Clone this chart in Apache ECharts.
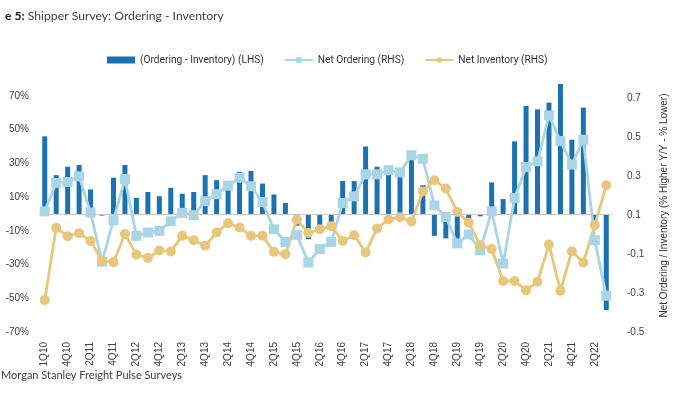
<!DOCTYPE html>
<html>
<head>
<meta charset="utf-8">
<script src="https://cdn.jsdelivr.net/npm/echarts@6/dist/echarts.min.js"></script>
<style>
html,body{margin:0;padding:0;background:#fff;}
#c{width:700px;height:394px;}
</style>
</head>
<body>
<div id="c"></div>
<script>
var categories = ['1Q10','3Q10','4Q10','1Q11','2Q11','3Q11','4Q11','1Q12','2Q12','3Q12','4Q12','1Q13','2Q13','3Q13','4Q13','1Q14','2Q14','3Q14','4Q14','1Q15','2Q15','3Q15','4Q15','1Q16','2Q16','3Q16','4Q16','1Q17','2Q17','3Q17','4Q17','1Q18','2Q18','3Q18','4Q18','1Q19','2Q19','3Q19','4Q19','1Q20','2Q20','3Q20','4Q20','1Q21','2Q21','3Q21','4Q21','1Q22','2Q22','3Q22'];

var orderingMinusInventory = [46,23,28,29,14.5,-1,21.5,29,9.5,13,10.5,15.5,12,13,23,20,15,25,25.5,18,11.5,6.5,-7,-15,-7,-6,19.5,19.5,40,28,24,22,32.5,17,-13,-14.5,-19,-2.7,-1.4,18.7,8.8,43,64,62,66,77,44,63,-5.5,-57];

var netOrdering = [0.12,0.266,0.271,0.30,0.114,-0.139,0.074,0.286,-0.006,0.011,0.02,0.069,0.112,0.10,0.172,0.208,0.252,0.293,0.249,0.168,0.028,-0.037,-0.001,-0.143,-0.074,-0.037,0.163,0.197,0.31,0.31,0.331,0.32,0.408,0.39,0.151,0.091,-0.045,0.001,-0.08,0.12,-0.148,0.189,0.348,0.377,0.613,0.481,0.36,0.488,-0.028,-0.314];

var netInventory = [-0.336,0.035,-0.008,0.008,-0.032,-0.134,-0.141,0.003,-0.102,-0.119,-0.081,-0.086,-0.006,-0.028,-0.057,0.011,0.059,0.037,-0.006,-0.006,-0.088,-0.1,0.078,0.009,0.028,0.044,-0.032,-0.003,-0.091,0.032,0.078,0.09,0.068,0.222,0.28,0.237,0.117,0.062,-0.054,-0.074,-0.238,-0.238,-0.285,-0.242,-0.05,-0.288,-0.085,-0.143,0.049,0.254];

var seriesNames = ['(Ordering - Inventory) (LHS)','Net Ordering (RHS)','Net Inventory (RHS)'];
var rightAxisName = 'Net Ordering / Inventory (% Higher Y/Y - % Lower)';
var titleText = 'e 5:';
var subtitleText = 'Shipper Survey: Ordering - Inventory';
var sourceText = 'Morgan Stanley Freight Pulse Surveys';

var chart = echarts.init(document.getElementById('c'), null, {renderer:'canvas'});
chart.setOption({
  animation:false,
  backgroundColor:'#fff',
  title:{
    text:'{b|' + titleText + '} ' + subtitleText,
    left:0, top:5,
    textStyle:{
      fontFamily:'Lato', fontSize:12.2, fontWeight:'normal', color:'#404040',
      rich:{ b:{fontFamily:'Lato', fontSize:12.2, fontWeight:'bold', color:'#1a1a3a'} }
    }
  },
  graphic:[{
    type:'text', left:1, top:370,
    style:{text:sourceText, font:'11px Lato', fill:'#404040'}
  }],
  legend:{
    top:50, left:102,
    itemGap:20, itemWidth:28, itemHeight:7,
    textStyle:{fontFamily:'Roboto', fontSize:10.2, color:'#333'},
    data:[
      {name:seriesNames[0], icon:'rect'},
      {name:seriesNames[1]},
      {name:seriesNames[2]}
    ]
  },
  grid:{left:39, right:88, top:79, bottom:62, containLabel:false},
  xAxis:{
    type:'category', data:categories, boundaryGap:true,
    axisLine:{show:false}, axisTick:{show:false},
    axisLabel:{interval:1, rotate:90, margin:10, fontFamily:'Liberation Sans', fontSize:10, color:'#404040'}
  },
  yAxis:[{
    type:'value', min:-70, max:80, interval:20,
    splitLine:{show:false}, axisLine:{show:false}, axisTick:{show:false},
    axisLabel:{formatter:function(v){return v > 75 ? '' : v + '%';}, margin:10, fontFamily:'Liberation Sans', fontSize:10, color:'#404040'}
  },{
    type:'value', min:-0.5, max:0.8, interval:0.2, position:'right',
    splitLine:{show:false}, axisLine:{show:false}, axisTick:{show:false},
    axisLabel:{formatter:function(v){return v > 0.75 ? '' : (Math.round(v*10)/10).toFixed(1);}, margin:15, fontFamily:'Liberation Sans', fontSize:10, color:'#404040'},
    name:rightAxisName, nameLocation:'middle', nameRotate:90, nameGap:47,
    nameTextStyle:{fontFamily:'Liberation Sans', fontSize:10, color:'#333'}
  }],
  series:[{
    name:seriesNames[0], type:'bar', yAxisIndex:0, data:orderingMinusInventory,
    barWidth:5, itemStyle:{color:'#1a72b0'},
    markLine:{silent:true, symbol:'none', label:{show:false},
      lineStyle:{color:'#c8c8c8', width:1, type:'solid'}, data:[{yAxis:0}]}
  },{
    name:seriesNames[1], type:'line', yAxisIndex:1, data:netOrdering,
    symbol:'rect', symbolSize:10, showAllSymbol:true,
    lineStyle:{color:'#a9d6e6', width:2.8},
    itemStyle:{color:'#a9d6e6'}
  },{
    name:seriesNames[2], type:'line', yAxisIndex:1, data:netInventory,
    symbol:'circle', symbolSize:10, showAllSymbol:true,
    lineStyle:{color:'#e8c67a', width:2.8},
    itemStyle:{color:'#e8c67a'}
  }]
});
</script>
</body>
</html>
